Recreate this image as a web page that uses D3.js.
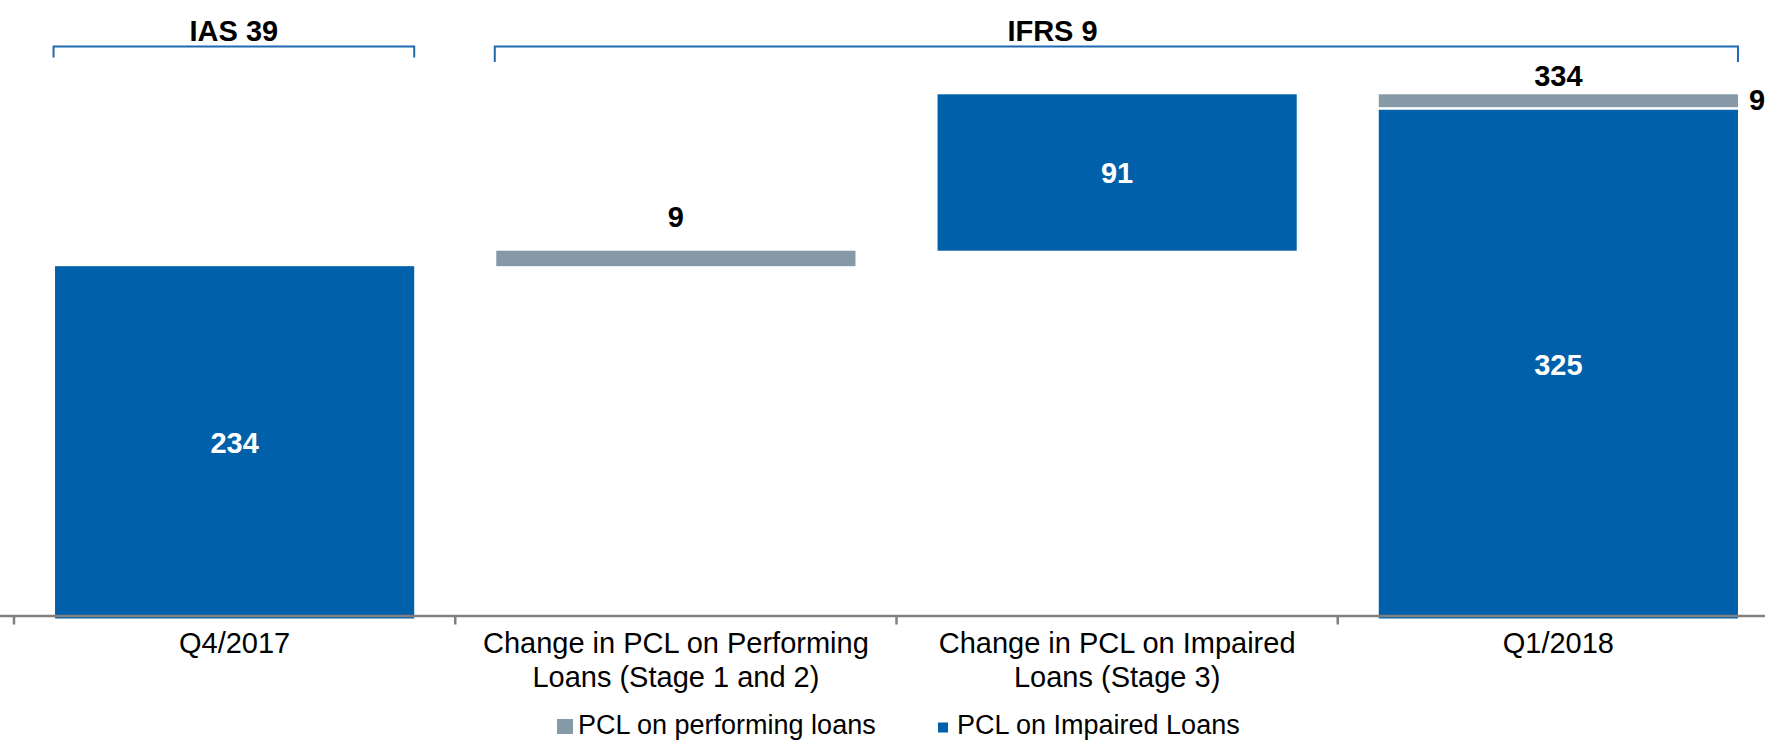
<!DOCTYPE html>
<html>
<head>
<meta charset="utf-8">
<script src="https://cdn.jsdelivr.net/npm/d3@7"></script>
<style>
  body { margin: 0; background: #fff; }
  svg { display: block; font-family: "Liberation Sans", Arial, sans-serif; }
</style>
</head>
<body>
<svg id="chart" width="1765" height="740"></svg>
<script>
// Data
const categories = ["Q4/2017", "Change in PCL on Performing Loans (Stage 1 and 2)", "Change in PCL on Impaired Loans (Stage 3)", "Q1/2018"];
const categoryLines = [["Q4/2017"], ["Change in PCL on Performing", "Loans (Stage 1 and 2)"], ["Change in PCL on Impaired", "Loans (Stage 3)"], ["Q1/2018"]];
const performing = [0, 9, 0, 9];
const impaired = [234, 0, 91, 325];
const isTotal = [true, false, false, true];
const seriesNames = ["PCL on performing loans", "PCL on Impaired Loans"];
const groups = [
  { label: "IAS 39", from: 0, to: 0 },
  { label: "IFRS 9", from: 1, to: 3 }
];

const colors = { performing: "#8699a6", impaired: "#0060a9", bracket: "#1f69b1", axis: "#808080" };

const svg = d3.select("#chart");

const x = d3.scaleBand()
  .domain(categories)
  .range([14, 1779])
  .paddingInner(0.186)
  .paddingOuter(0.093);

const y = d3.scaleLinear()
  .domain([29, 334])
  .range([618.5, 94.3]);

// build waterfall segments
let running = 0;
const segments = [];
categories.forEach((c, i) => {
  let base = isTotal[i] ? y.domain()[0] : running;
  if (isTotal[i]) {
    // stacked: impaired bottom, performing on top
    if (impaired[i]) segments.push({ cat: c, i, key: "impaired", v0: base, v1: impaired[i], value: impaired[i] });
    if (performing[i]) segments.push({ cat: c, i, key: "performing", v0: impaired[i], v1: impaired[i] + performing[i], value: performing[i], stacked: true });
    running = impaired[i] + performing[i];
  } else {
    const delta = performing[i] + impaired[i];
    const key = performing[i] ? "performing" : "impaired";
    segments.push({ cat: c, i, key, v0: running, v1: running + delta, value: delta });
    running += delta;
  }
});

// bars
svg.append("g").selectAll("rect")
  .data(segments)
  .enter()
  .append("rect")
  .attr("x", d => x(d.cat))
  .attr("width", x.bandwidth())
  .attr("y", d => y(d.v1))
  .attr("height", d => y(d.v0) - y(d.v1) - (d.stacked ? 2.6 : 0))
  .attr("fill", d => colors[d.key]);

// axis line + ticks at band boundaries
const step = x.step();
const axisY = 616;
svg.append("line")
  .attr("x1", 0).attr("x2", 1765)
  .attr("y1", axisY).attr("y2", axisY)
  .attr("stroke", colors.axis)
  .attr("stroke-width", 2.5);

const boundaries = categories.map(c => x(c) - x.paddingInner() * step / 2)
  .concat([x(categories[categories.length - 1]) + x.bandwidth() + x.paddingInner() * step / 2]);
svg.append("g").selectAll("line")
  .data(boundaries)
  .enter()
  .append("line")
  .attr("x1", d => d).attr("x2", d => d)
  .attr("y1", axisY).attr("y2", axisY + 8.5)
  .attr("stroke", colors.axis)
  .attr("stroke-width", 2.5);

// category labels
const catText = svg.append("g").selectAll("text")
  .data(categories)
  .enter()
  .append("text")
  .attr("x", d => x(d) + x.bandwidth() / 2)
  .attr("y", 653)
  .attr("text-anchor", "middle")
  .style("font-size", "29px")
  .attr("fill", "#000");
catText.each(function(d, i) {
  const t = d3.select(this);
  categoryLines[i].forEach((line, j) => {
    t.append("tspan")
      .attr("x", x(d) + x.bandwidth() / 2)
      .attr("dy", j === 0 ? 0 : 33.7)
      .text(line);
  });
});

// value labels
segments.forEach(s => {
  const cx = x(s.cat) + x.bandwidth() / 2;
  if (s.key === "impaired") {
    svg.append("text")
      .attr("x", cx)
      .attr("y", (y(s.v0) + y(s.v1)) / 2 + 10.5)
      .attr("text-anchor", "middle")
      .attr("fill", "#fff")
      .style("font-size", "29px")
      .style("font-weight", "bold")
      .text(s.value);
  } else if (s.stacked) {
    // label to the right of stacked segment
    svg.append("text")
      .attr("x", x(s.cat) + x.bandwidth() + 11)
      .attr("y", (y(s.v0) + y(s.v1)) / 2 + 8)
      .attr("fill", "#000")
      .style("font-size", "29px")
      .style("font-weight", "bold")
      .text(s.value);
  } else {
    svg.append("text")
      .attr("x", cx)
      .attr("y", y(s.v1) - 24)
      .attr("text-anchor", "middle")
      .attr("fill", "#000")
      .style("font-size", "29px")
      .style("font-weight", "bold")
      .text(s.value);
  }
});

// totals above stacked columns
categories.forEach((c, i) => {
  if (isTotal[i] && performing[i] && impaired[i]) {
    svg.append("text")
      .attr("x", x(c) + x.bandwidth() / 2)
      .attr("y", y(performing[i] + impaired[i]) - 8.3)
      .attr("text-anchor", "middle")
      .attr("fill", "#000")
      .style("font-size", "29px")
      .style("font-weight", "bold")
      .text(performing[i] + impaired[i]);
  }
});

// group brackets
const bracketY = 46.5;
groups.forEach((g, gi) => {
  const x0 = x(categories[g.from]) - 1.5;
  const x1 = x(categories[g.to]) + x.bandwidth();
  const drop = gi === 0 ? 11 : 15.5;
  svg.append("path")
    .attr("d", `M${x0},${bracketY + drop}V${bracketY}H${x1}V${bracketY + drop}`)
    .attr("fill", "none")
    .attr("stroke", colors.bracket)
    .attr("stroke-width", 2);
  const lx = gi === 0 ? (x0 + x1) / 2 : x(categories[2]) + 115;
  svg.append("text")
    .attr("x", lx)
    .attr("y", 41)
    .attr("text-anchor", "middle")
    .attr("fill", "#000")
    .style("font-size", "29px")
    .style("font-weight", "bold")
    .text(g.label);
});

// legend
const legend = [
  { name: seriesNames[0], color: colors.performing, sx: 557, sy: 719, w: 16, h: 15, tx: 578 },
  { name: seriesNames[1], color: colors.impaired, sx: 938, sy: 722.5, w: 10, h: 10, tx: 957 }
];
const lg = svg.append("g").selectAll("g")
  .data(legend)
  .enter()
  .append("g");
lg.append("rect")
  .attr("x", d => d.sx).attr("y", d => d.sy)
  .attr("width", d => d.w).attr("height", d => d.h)
  .attr("fill", d => d.color);
lg.append("text")
  .attr("x", d => d.tx)
  .attr("y", 733.5)
  .style("font-size", "27px")
  .attr("fill", "#000")
  .text(d => d.name);
</script>
</body>
</html>
